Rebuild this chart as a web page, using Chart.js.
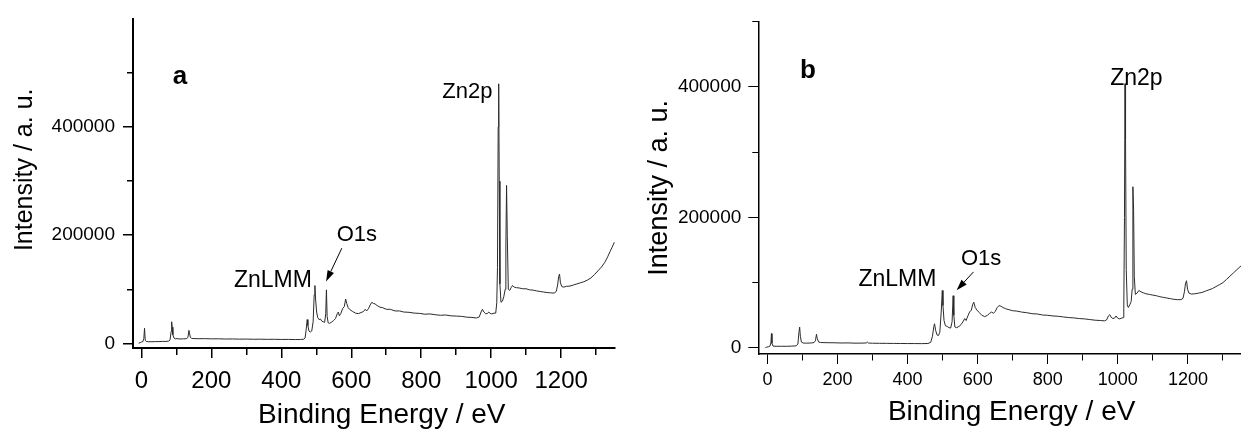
<!DOCTYPE html>
<html><head><meta charset="utf-8">
<script src="https://cdn.jsdelivr.net/npm/chart.js@4.4.1/dist/chart.umd.min.js"></script>
<style>
html,body{margin:0;padding:0;background:#fff;overflow:hidden;}
#wrap{position:relative;width:1241px;height:432px;overflow:hidden;background:#fff;}
#ca{position:absolute;left:0;top:0;}
#cb{position:absolute;left:620px;top:0;}
</style></head><body>
<div id="wrap"><canvas id="ca" width="620" height="432"></canvas><canvas id="cb" width="645" height="432"></canvas></div>
<script>
// [binding energy (eV), intensity (a.u.)]
const spectrumA = [[-8,500],[-3,1500],[0,2500],[4,3000],[7,9000],[9,28000],[11,6000],[14,3500],[20,3200],[30,3000],[40,3400],[50,3300],[60,3700],[70,3600],[78,4200],[82,6500],[85,22000],[86.5,40000],[88,30000],[90,16000],[93,10000],[97,8500],[102,8800],[110,8200],[120,8400],[128,8600],[133,11000],[136,24000],[137.5,19000],[140,11000],[144,9200],[150,8900],[165,8700],[180,8800],[200,8400],[220,8500],[240,8100],[260,8200],[280,7900],[300,8000],[320,7700],[340,7800],[360,7500],[380,7600],[400,7300],[420,7400],[440,7100],[455,7300],[463,7600],[468,10000],[471,25000],[474,44000],[476,33000],[479,23000],[483,21000],[487,23000],[491,40000],[494,90000],[496,107000],[498,82000],[501,58000],[504,48000],[508,44000],[512,45000],[516,41000],[520,40000],[524,39000],[527,55000],[529,99000],[531,50000],[534,38000],[538,37000],[543,39000],[549,42000],[555,46000],[560,55000],[563,58000],[566,51000],[570,55000],[575,64000],[580,68000],[584,82000],[587,74000],[591,66000],[597,62000],[604,59000],[612,56000],[620,55000],[628,57000],[635,59000],[640,63000],[644,60000],[649,64000],[654,71000],[659,76000],[663,74000],[668,73000],[674,70000],[682,67000],[690,66000],[700,63000],[712,63000],[725,60000],[738,60000],[750,58000],[765,57500],[780,56000],[795,55500],[810,54000],[825,54500],[840,53000],[855,52000],[870,52500],[885,51000],[900,50500],[915,50000],[930,48500],[945,48000],[958,47000],[966,49000],[971,58000],[975,63000],[979,58000],[984,55000],[989,55000],[993,58000],[997,55500],[1002,54500],[1008,56000],[1013,56000],[1016,75000],[1018,140000],[1020,400000],[1021.5,480000],[1023,300000],[1025,110000],[1028,76000],[1032,78000],[1036,86000],[1040,100000],[1042,180000],[1044,292000],[1046,200000],[1049,100000],[1053,98000],[1057,103000],[1061,107000],[1066,104000],[1072,103000],[1080,102500],[1090,101000],[1100,101000],[1110,99000],[1120,98500],[1130,97000],[1140,96000],[1150,95000],[1160,94000],[1170,93500],[1180,93000],[1186,96000],[1190,108000],[1193,124000],[1195.5,128000],[1198,112000],[1202,105000],[1207,104000],[1215,105500],[1225,106000],[1235,108000],[1245,110000],[1255,112000],[1265,114000],[1275,117000],[1285,121000],[1295,127000],[1305,134000],[1315,141000],[1325,150000],[1333,160000],[1340,170000],[1346,178000],[1352,187000]];

// [binding energy (eV), intensity (a.u.)]
const spectrumB = [[-6,500],[-2,1200],[3,1800],[7,2600],[10,8000],[11.5,22000],[13,7000],[16,2800],[25,2500],[40,2600],[55,2500],[70,2800],[82,3200],[87,6000],[90,24000],[92,32000],[94,18000],[97,9000],[102,7500],[112,7300],[125,7600],[133,8200],[137,11000],[140,21000],[142,15000],[146,9000],[152,8300],[170,8000],[190,7900],[210,7600],[230,7700],[250,7300],[270,7400],[282,7600],[285,9000],[288,7500],[300,7200],[320,7100],[340,7000],[360,6900],[380,6800],[400,6700],[420,6700],[440,6600],[458,6800],[466,8500],[471,18000],[475,33000],[477,37000],[480,27000],[484,20000],[488,19000],[492,24000],[496,55000],[499,88000],[501,65000],[504,42000],[508,34000],[513,33000],[518,31000],[523,30500],[527,40000],[530,80000],[532,50000],[535,32000],[540,31000],[547,33000],[553,36000],[559,41000],[563,45000],[567,42000],[572,49000],[577,55000],[582,58000],[586,67000],[589,70000],[593,62000],[598,58000],[605,54000],[612,50000],[620,48000],[628,50000],[634,53000],[640,55000],[645,53000],[650,56000],[656,62000],[661,65000],[666,64000],[672,62000],[680,60000],[690,58500],[700,57000],[712,56500],[725,55000],[740,54000],[755,52500],[770,52000],[785,50500],[800,50000],[815,49000],[830,48500],[845,47500],[860,46500],[875,46000],[890,45000],[905,44500],[920,43500],[935,42500],[950,42000],[962,41500],[968,43000],[973,49000],[977,51000],[981,47000],[986,45000],[991,46000],[995,49000],[999,46000],[1004,44500],[1010,45500],[1015,46500],[1017,60000],[1019,200000],[1020.5,405000],[1022,320000],[1024,120000],[1027,66000],[1030,62000],[1034,66000],[1038,71000],[1041,90000],[1043,247000],[1045,211000],[1047,110000],[1050,82000],[1055,84000],[1060,88000],[1066,86000],[1073,84500],[1080,83000],[1090,82000],[1100,81000],[1110,80000],[1120,78500],[1130,77500],[1140,76500],[1150,75500],[1160,74500],[1170,74000],[1180,74000],[1186,76000],[1190,86000],[1193,98000],[1196,103000],[1199,90000],[1203,84000],[1210,82500],[1220,83000],[1230,84000],[1240,85000],[1250,87000],[1260,89000],[1270,91000],[1280,94000],[1290,97000],[1300,100000],[1310,105000],[1320,110000],[1330,115000],[1340,120000],[1352,126000],[1360,129000]];

const xTickLabels = [0, 200, 400, 600, 800, 1000, 1200];
const yTickLabels = [0, 200000, 400000];
const xTitle = 'Binding Energy / eV';
const yTitle = 'Intensity / a. u.';

const FONT = "'Liberation Sans', Arial, Helvetica, sans-serif";

const notesPlugin = {
  id: 'notes',
  afterDatasetsDraw(chart, args, opts) {
    const ctx = chart.ctx, xs = chart.scales.x, ys = chart.scales.y;
    ctx.save();
    (opts.texts || []).forEach(t => {
      ctx.font = (t.bold ? 'bold ' : '') + t.size + 'px ' + FONT;
      ctx.fillStyle = '#000';
      ctx.textAlign = 'center';
      ctx.textBaseline = 'middle';
      ctx.fillText(t.text, xs.getPixelForValue(t.x), ys.getPixelForValue(t.y));
    });
    (opts.arrows || []).forEach(a => {
      const x1 = xs.getPixelForValue(a.from[0]), y1 = ys.getPixelForValue(a.from[1]);
      const x2 = xs.getPixelForValue(a.to[0]), y2 = ys.getPixelForValue(a.to[1]);
      const ang = Math.atan2(y2 - y1, x2 - x1);
      const L = 11, W = 3.5;
      const bx = x2 - L * Math.cos(ang), by = y2 - L * Math.sin(ang);
      ctx.strokeStyle = '#000'; ctx.fillStyle = '#000'; ctx.lineWidth = 1;
      ctx.beginPath(); ctx.moveTo(x1, y1); ctx.lineTo(bx, by); ctx.stroke();
      ctx.beginPath(); ctx.moveTo(x2, y2);
      ctx.lineTo(bx - W * Math.sin(ang), by + W * Math.cos(ang));
      ctx.lineTo(bx + W * Math.sin(ang), by - W * Math.cos(ang));
      ctx.closePath(); ctx.fill();
    });
    ctx.restore();
  }
};

function makeChart(id, cfg) {
  const isMinorX = c => c.tick && xTickLabels.indexOf(c.tick.value) < 0;
  const isMinorY = c => c.tick && yTickLabels.indexOf(c.tick.value) < 0;
  return new Chart(document.getElementById(id), {
    type: 'line',
    data: { datasets: [{
      data: cfg.data.map(p => ({x: p[0], y: p[1]})),
      borderColor: '#2b2b2b', borderWidth: 1, pointRadius: 0, tension: 0, fill: false
    }]},
    plugins: [notesPlugin],
    options: {
      responsive: false, animation: false, devicePixelRatio: 1,
      layout: { padding: cfg.pad },
      plugins: { legend: {display: false}, tooltip: {enabled: false},
        notes: { texts: cfg.texts, arrows: cfg.arrows } },
      scales: {
        x: {
          type: 'linear', min: cfg.xmin, max: cfg.xmax,
          afterFit: s => { s.height = cfg.xh; },
          border: { display: true, color: '#000', width: cfg.bw },
          grid: { display: true, drawOnChartArea: false, drawTicks: true, tickLength: 10,
            color: '#000', lineWidth: cfg.tw, tickColor: '#000', tickWidth: cfg.tw,
            tickBorderDash: c => isMinorX(c) ? [6, 100] : [] },
          ticks: { stepSize: 100, includeBounds: false, autoSkip: false, maxRotation: 0,
            padding: cfg.xpad, color: '#000', font: {family: FONT, size: cfg.xfs},
            callback: v => (xTickLabels.indexOf(v) >= 0 ? String(v) : '') },
          title: { display: true, text: cfg.xTitleText, color: '#000',
            font: {family: FONT, size: 28, weight: 'normal'}, padding: {top: 0, bottom: cfg.xtp} }
        },
        y: {
          type: 'linear', min: cfg.ymin, max: cfg.ymax,
          afterFit: s => { s.width = cfg.yw; },
          border: { display: true, color: '#000', width: cfg.bw },
          grid: { display: true, drawOnChartArea: false, drawTicks: true, tickLength: 10,
            color: '#000', lineWidth: cfg.tw, tickColor: '#000', tickWidth: cfg.tw,
            tickBorderDash: c => isMinorY(c) ? [6, 100] : [],
            tickBorderDashOffset: c => isMinorY(c) ? 102 : 0 },
          ticks: { maxTicksLimit: 8, includeBounds: false, autoSkip: false,
            padding: cfg.ypad, color: '#000', font: {family: FONT, size: cfg.yfs},
            callback: v => (yTickLabels.indexOf(v) >= 0 ? String(v) : '') },
          title: { display: true, text: cfg.yTitleText, color: '#000',
            font: {family: FONT, size: cfg.ytfs, weight: 'normal'}, padding: {top: cfg.ytp, bottom: 0} }
        }
      }
    }
  });
}

makeChart('ca', {
  data: spectrumA, xmin: -24, xmax: 1354, ymin: -8500, ymax: 599000,
  pad: {left: 0, right: 5, top: 15, bottom: 0}, xh: 84, yw: 133,
  bw: 2, tw: 1.5, xpad: 9, xfs: 24, ypad: 8, yfs: 19, xtp: 0, ytfs: 25, ytp: 10,
  xTitleText: '  ' + xTitle, yTitleText: '    ' + yTitle,
  texts: [
    {text: 'a', x: 110, y: 493000, size: 26, bold: true},
    {text: 'Zn2p', x: 932, y: 465000, size: 22},
    {text: 'ZnLMM', x: 376, y: 116000, size: 23},
    {text: 'O1s', x: 616, y: 201000, size: 22}
  ],
  arrows: [{from: [573, 176000], to: [528, 114500]}]
});

makeChart('cb', {
  data: spectrumB, xmin: -26, xmax: 1420, ymin: -9300, ymax: 500000,
  pad: {left: 0, right: 0, top: 21.7, bottom: 0}, xh: 78, yw: 138.3,
  bw: 1.5, tw: 1, xpad: 5, xfs: 18, ypad: 7, yfs: 19, xtp: 3, ytfs: 27, ytp: 23,
  xTitleText: xTitle, yTitleText: yTitle,
  texts: [
    {text: 'b', x: 116, y: 424000, size: 26, bold: true},
    {text: 'Zn2p', x: 1053, y: 413000, size: 23},
    {text: 'ZnLMM', x: 371, y: 105000, size: 23},
    {text: 'O1s', x: 610, y: 136000, size: 22}
  ],
  arrows: [{from: [588, 116500], to: [540, 88500]}]
});
</script>
</body></html>
